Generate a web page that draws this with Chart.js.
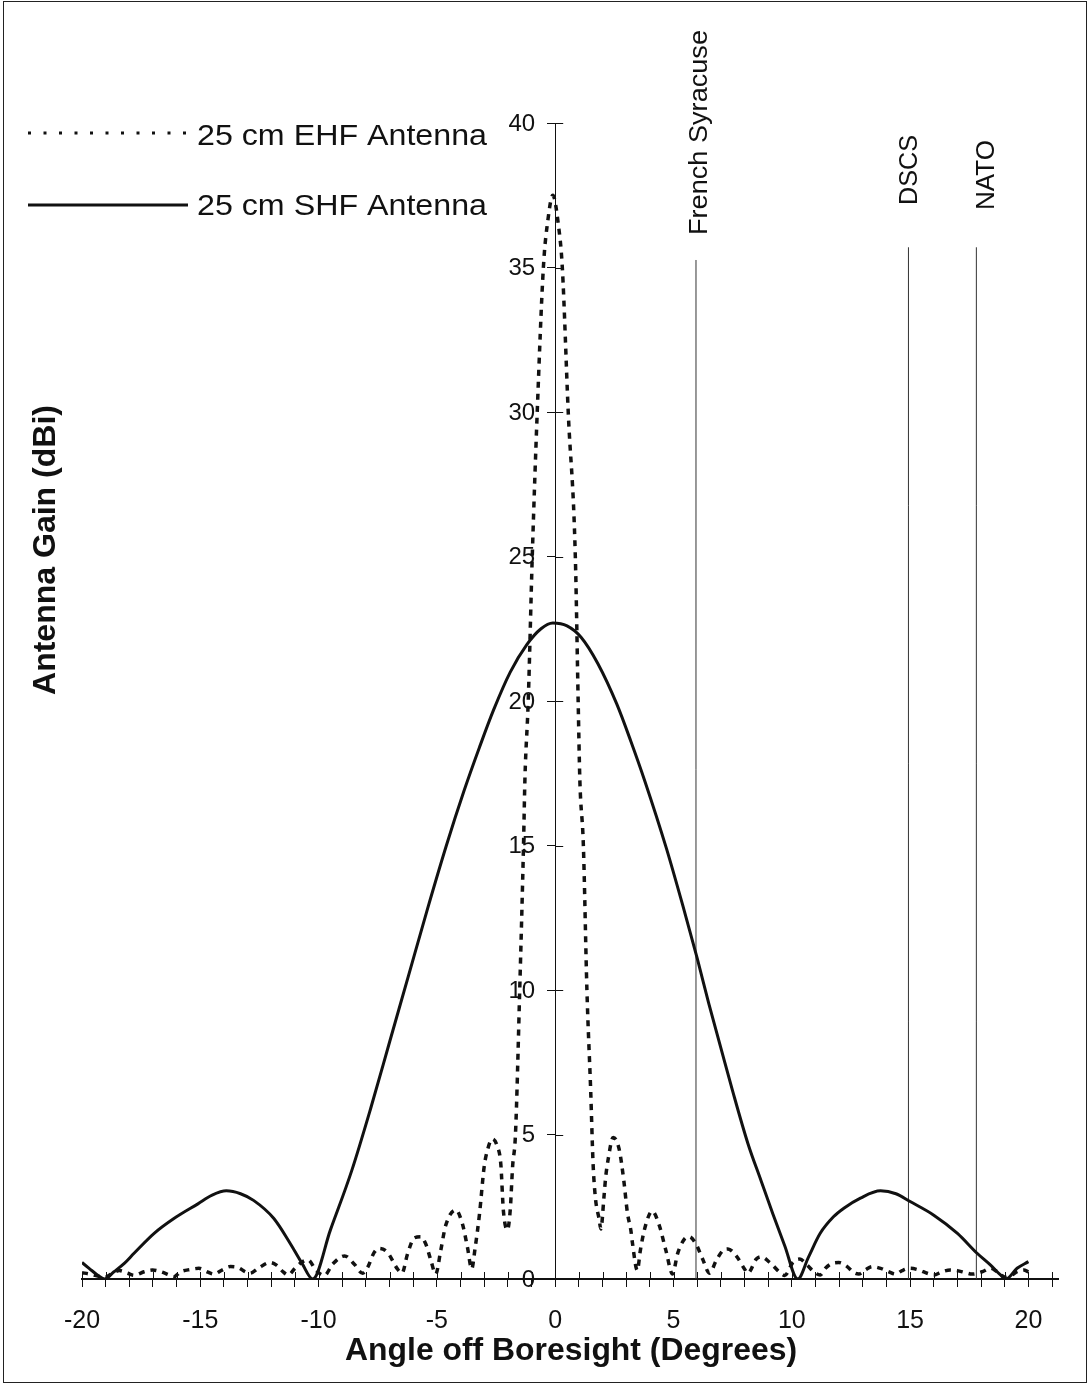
<!DOCTYPE html>
<html>
<head>
<meta charset="utf-8">
<script src="https://cdn.jsdelivr.net/npm/chart.js@4.4.1/dist/chart.umd.min.js"></script>
<style>
  html, body { margin: 0; padding: 0; background: #fff; }
  #wrap { position: relative; width: 1089px; height: 1386px; }
  #frame { position: absolute; left: 3px; top: 1px; width: 1084px; height: 1382px;
           border: 1.5px solid #222; box-sizing: border-box; pointer-events: none; }
  canvas { display: block; }
</style>
</head>
<body>
<div id="wrap">
  <canvas id="chart" width="1089" height="1386"></canvas>
  <div id="frame"></div>
</div>
<script>
// --- data ---
const shfAngle = [-20, -19.7, -19.35, -19.05, -18.65, -18.2, -17.8, -16.95, -16.1, -15.1, -14.5, -13.9,
  -13.3, -12.75, -11.9, -11.2, -10.7, -10.25, -9.5, -8.6, -7.8, -7.0, -6.2, -5.4, -4.6, -3.85, -3.2,
  -2.6, -1.9, -1.2, -0.6, -0.1, 0.5, 1.1, 1.8, 2.6, 3.2, 3.8, 4.7, 5.4, 6.0, 6.5, 7.0, 7.5, 8.14, 8.7,
  9.2, 9.7, 10.25, 10.7, 11.2, 11.77, 12.2, 12.9, 13.75, 14.4, 15.0, 16.0, 17.0, 17.83, 18.4, 18.82,
  19.05, 19.52, 20.0];
const shfGain = [0.57, 0.37, 0.14, 0, 0.25, 0.55, 0.89, 1.58, 2.1, 2.6, 2.9, 3.05,
  2.95, 2.72, 2.1, 1.23, 0.54, 0, 1.7, 3.75, 5.9, 8.2, 10.5, 12.8, 15.0, 16.9, 18.4,
  19.7, 21.0, 21.95, 22.5, 22.7, 22.6, 22.2, 21.3, 19.9, 18.6, 17.2, 14.9, 12.9, 11.1, 9.5, 8.0, 6.5, 4.7, 3.4,
  2.25, 1.15, 0, 0.75, 1.58, 2.16, 2.45, 2.8, 3.05, 2.95, 2.68, 2.21, 1.58, 0.89, 0.48, 0.14,
  0, 0.37, 0.6];

const ehfAngle = [-20, -19.68, -19.33, -19.02, -18.77, -18.42, -18.07, -17.8, -17.37, -17.02, -16.67,
  -16.32, -16.11, -15.83, -15.41, -15.06, -14.71, -14.43, -14.08, -13.73, -13.38, -13.1, -12.9, -12.55,
  -12.06, -11.78, -11.5, -11.29, -11.0, -10.73, -10.45, -10.1, -9.76, -9.4, -8.9, -8.5, -8.14, -7.93,
  -7.65, -7.44, -7.09, -6.67, -6.48, -6.24, -5.96, -5.68, -5.47, -5.26, -5.05, -4.84, -4.63, -4.2,
  -3.92, -3.71, -3.53, -3.39, -3.2, -3.0, -2.85, -2.66, -2.45, -2.3, -2.19, -2.02, -1.9, -1.8, -1.68,
  -1.5, -1.34, -1.28, -1.14, -0.97, -0.76, -0.5, -0.3, -0.1, 0.13, 0.3, 0.55, 0.85, 0.97, 1.04, 1.19,
  1.34, 1.5, 1.6, 1.7, 1.85, 1.93, 2.06, 2.13, 2.24, 2.45, 2.7, 2.9, 3.05, 3.2, 3.26, 3.47, 3.6, 3.8,
  4.1, 4.4, 4.68, 4.96, 5.17, 5.46, 5.67, 5.95, 6.23, 6.52, 6.8, 7.08, 7.3, 7.65, 8.0, 8.14, 8.5, 8.7,
  9.06, 9.49, 9.7, 10.05, 10.34, 10.65, 10.93, 11.2, 11.42, 11.7, 11.99, 12.34, 12.62, 12.83, 13.1,
  13.4, 13.75, 14.1, 14.38, 14.66, 15.0, 15.37, 15.72, 16.0, 16.35, 16.7, 16.99, 17.34, 17.62, 18.04,
  18.4, 18.68, 19.03, 19.31, 19.52, 19.8, 20.0];
const ehfGain = [0.22, 0.17, 0.1, 0.06, 0.17, 0.29, 0.2, 0.13, 0.25, 0.31, 0.25,
  0.14, 0.08, 0.25, 0.33, 0.37, 0.25, 0.17, 0.31, 0.43, 0.39, 0.25, 0.2, 0.37,
  0.57, 0.48, 0.25, 0.14, 0.37, 0.57, 0.66, 0.29, 0.12, 0.52, 0.8, 0.52, 0.2, 0.4,
  0.92, 1.06, 0.92, 0.35, 0.2, 0.87, 1.42, 1.46, 1.21, 0.66, 0.17, 0.98, 1.85, 2.39,
  1.9, 1.1, 0.35, 1.04, 2.25, 3.9, 4.5, 4.85, 4.6, 3.98, 2.36, 1.7, 2.4, 3.9, 5.0,
  10.0, 15.0, 17.3, 20.0, 25.0, 30.0, 35.0, 36.7, 37.5, 36.5, 35.0, 30.0, 25.0, 20.0, 17.3, 15.0,
  10.0, 6.5, 4.0, 2.8, 2.1, 1.73, 2.83, 3.5, 4.15, 4.9, 4.5, 3.4, 2.3, 1.67, 1.27, 0.3, 1.0, 1.8,
  2.35, 1.85, 0.98, 0.17, 0.87, 1.38, 1.46, 1.21, 0.69, 0.2, 0.63, 0.98, 1.04, 0.8, 0.35, 0.2, 0.69, 0.77,
  0.58, 0.23, 0.12, 0.58, 0.69, 0.48, 0.25, 0.14, 0.37, 0.54, 0.57, 0.43, 0.22, 0.17, 0.31,
  0.43, 0.37, 0.25, 0.17, 0.29, 0.37, 0.31, 0.2, 0.14, 0.25, 0.31, 0.29, 0.22, 0.17, 0.25,
  0.37, 0.25, 0.06, 0.14, 0.25, 0.31, 0.25];

const seriesNames = ['25 cm EHF Antenna', '25 cm SHF Antenna'];
const markerNames = ['French Syracuse', 'DSCS', 'NATO'];
const markerAngle = [5.95, 14.93, 17.8];
const markerTop = [35.26, 35.7, 35.7];
const xTitle = 'Angle off Boresight (Degrees)';
const yTitle = 'Antenna Gain (dBi)';

// --- look ---
const INK = '#111';
const FONT = '"Liberation Sans", Arial, sans-serif';
const EHF_DASH = [6, 6];

function pts(xs, ys) {
  return xs.map((x, i) => ({ x: x, y: ys[i] }));
}

// draw text squeezed/stretched to a target width (the scan's type is a bit wide)
function fitText(ctx, text, x, y, w, font, rot) {
  ctx.save();
  ctx.font = font;
  const m = ctx.measureText(text).width;
  ctx.translate(x, y);
  if (rot) ctx.rotate(rot);
  ctx.scale(w / m, 1);
  ctx.textAlign = 'left';
  ctx.textBaseline = 'alphabetic';
  ctx.fillStyle = INK;
  ctx.fillText(text, 0, 0);
  ctx.restore();
}

const decor = {
  id: 'decor',
  afterDraw(chart) {
    const ctx = chart.ctx;
    const xs = chart.scales.x;
    const ys = chart.scales.y;
    const x0 = xs.getPixelForValue(0);
    const y0 = ys.getPixelForValue(0);

    // other half of the crossing tick marks
    ctx.save();
    ctx.strokeStyle = INK;
    ctx.lineWidth = 1;
    ctx.beginPath();
    xs.ticks.forEach(t => {
      const px = Math.round(xs.getPixelForValue(t.value)) + 0.5;
      ctx.moveTo(px, y0);
      ctx.lineTo(px, y0 - 7);
    });
    ys.ticks.forEach(t => {
      const py = Math.round(ys.getPixelForValue(t.value)) + 0.5;
      ctx.moveTo(x0, py);
      ctx.lineTo(x0 + 8, py);
    });
    ctx.stroke();

    // y tick labels, left of the centred axis
    ctx.fillStyle = INK;
    ctx.font = '24px ' + FONT;
    ctx.textAlign = 'right';
    ctx.textBaseline = 'middle';
    ys.ticks.forEach(t => {
      ctx.fillText(String(t.value), x0 - 20, ys.getPixelForValue(t.value) + 1);
    });
    ctx.restore();

    // legend, top left
    const ds = chart.data.datasets;
    ctx.save();
    ctx.strokeStyle = INK;
    ctx.lineWidth = 3;
    ctx.setLineDash([3, 12.5]);
    ctx.beginPath();
    ctx.moveTo(28, 133);
    ctx.lineTo(188, 133);
    ctx.stroke();
    ctx.setLineDash([]);
    ctx.beginPath();
    ctx.moveTo(28, 205);
    ctx.lineTo(188, 205);
    ctx.stroke();
    ctx.restore();
    fitText(ctx, ds[0].label, 197, 145, 290, '30px ' + FONT);
    fitText(ctx, ds[1].label, 197, 215, 290, '30px ' + FONT);

    // axis titles
    fitText(ctx, xTitle, 345, 1360, 452, 'bold 31px ' + FONT);
    fitText(ctx, yTitle, 55, 695, 290, 'bold 31px ' + FONT, -Math.PI / 2);

    // marker line labels
    const lab = [
      { dx: 11, y: 235, w: 205 },
      { dx: 9, y: 205, w: 70 },
      { dx: 18, y: 210, w: 70 }
    ];
    markerNames.forEach((n, i) => {
      const px = xs.getPixelForValue(markerAngle[i]);
      fitText(ctx, n, px + lab[i].dx, lab[i].y, lab[i].w, '26px ' + FONT, -Math.PI / 2);
    });
  }
};

const markerSets = markerNames.map((n, i) => ({
  label: n,
  data: [{ x: markerAngle[i], y: 0 }, { x: markerAngle[i], y: markerTop[i] }],
  borderColor: '#333',
  borderWidth: 1,
  pointRadius: 0,
  showLine: true
}));

new Chart(document.getElementById('chart'), {
  type: 'scatter',
  data: {
    datasets: [
      {
        label: seriesNames[0],
        data: pts(ehfAngle, ehfGain),
        borderColor: INK,
        borderWidth: 3.5,
        borderDash: EHF_DASH,
        pointRadius: 0,
        showLine: true,
        cubicInterpolationMode: 'monotone'
      },
      {
        label: seriesNames[1],
        data: pts(shfAngle, shfGain),
        borderColor: INK,
        borderWidth: 3,
        pointRadius: 0,
        showLine: true,
        cubicInterpolationMode: 'monotone'
      },
      ...markerSets
    ]
  },
  options: {
    responsive: false,
    animation: false,
    events: [],
    layout: { padding: { left: 82, right: 31, top: 123, bottom: 107 } },
    plugins: {
      legend: { display: false },
      tooltip: { enabled: false }
    },
    scales: {
      x: {
        type: 'linear',
        min: -20,
        max: 21.25,
        position: { y: 0 },
        ticks: {
          stepSize: 1,
          autoSkip: false,
          includeBounds: false,
          maxRotation: 0,
          padding: 20,
          color: INK,
          font: { family: FONT, size: 25 },
          callback: v => {
            const r = Math.round(v);
            return (Math.abs(v - r) < 1e-6 && r % 5 === 0 && r <= 20) ? String(r) : '';
          }
        },
        grid: { drawOnChartArea: false, tickLength: 7, color: INK, lineWidth: 1 },
        border: { display: true, color: INK, width: 2 }
      },
      y: {
        type: 'linear',
        min: 0,
        max: 40,
        position: { x: 0 },
        ticks: { stepSize: 5, display: false },
        grid: { drawOnChartArea: false, tickLength: 8, color: INK, lineWidth: 1 },
        border: { display: true, color: INK, width: 1 }
      }
    }
  },
  plugins: [decor]
});
</script>
</body>
</html>
